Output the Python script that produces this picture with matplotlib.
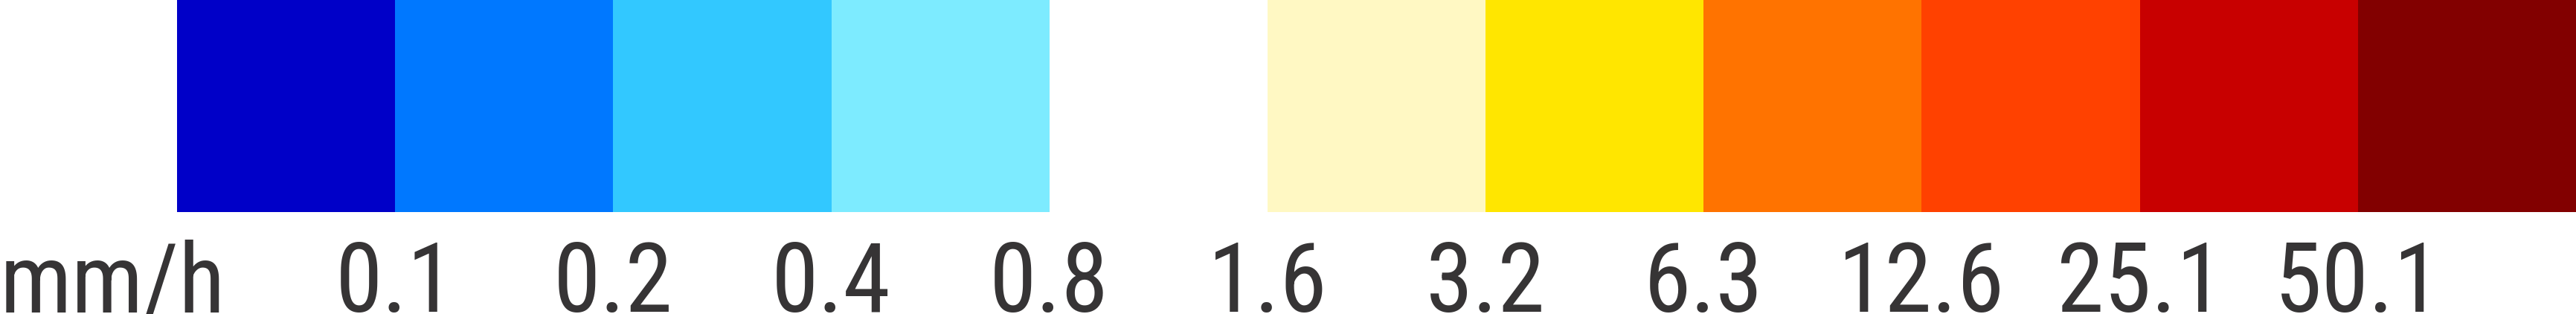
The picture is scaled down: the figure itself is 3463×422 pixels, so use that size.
import matplotlib
matplotlib.use("Agg")
import matplotlib.pyplot as plt
from matplotlib import font_manager
from matplotlib.font_manager import FontProperties
from matplotlib.textpath import TextPath
from matplotlib.transforms import blended_transform_factory

# legend classes (mm/h), one colour per class
colors = ["#0000C8", "#0078FF", "#32C8FF", "#7DEBFF", "#FFFFFF",
          "#FFF8C3", "#FFE600", "#FF7300", "#FF4100", "#C80000", "#820000"]
tick_labels = ["0.1", "0.2", "0.4", "0.8", "1.6", "3.2", "6.3", "12.6", "25.1", "50.1"]
unit = "mm/h"

W, H = 3463, 422
DIGIT_H = 94  # ink height of a digit in the reference, px

# the reference uses a narrow Arial-like face
installed = {f.name for f in font_manager.fontManager.ttflist}
family = next((f for f in ["Liberation Sans Narrow", "Arial Narrow", "Roboto Condensed",
                           "Archivo Narrow", "PT Sans Narrow"] if f in installed),
              "Liberation Sans")
prop = FontProperties(family=family)
h0 = TextPath((0, 0), "0", size=100, prop=prop).get_extents().height / 100
fs = DIGIT_H * 72 / (100 * h0)

fig = plt.figure(figsize=(W / 100, H / 100), dpi=100)
ax = fig.add_axes([238 / W, 1 - 285 / H, 1 - 238 / W, 285 / H])

n = len(colors)
ax.bar(range(n), [1] * n, width=1, align="edge", color=colors, linewidth=0)
ax.set_xlim(0, n)
ax.set_ylim(0, 1)
ax.axis("off")

txt_color = "#363435"
trans = blended_transform_factory(ax.transData, fig.transFigure)
base_y = 1 - 419.5 / H
for i, lab in enumerate(tick_labels, start=1):
    ax.text(i, base_y, lab, transform=trans, ha="center", va="baseline",
            fontsize=fs, family=family, color=txt_color)

fig.text(0, base_y, unit, ha="left", va="baseline", fontsize=fs,
         family=family, color=txt_color)

fig.savefig("out.png", dpi=100)
